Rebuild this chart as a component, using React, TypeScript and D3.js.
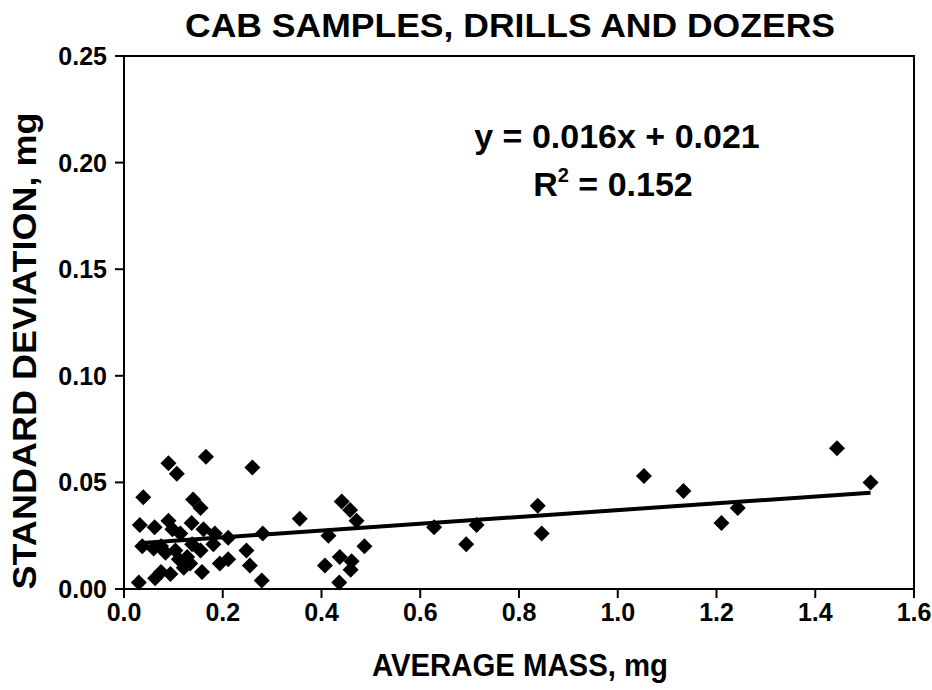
import React from "react";
import * as d3 from "d3";

/* average mass (mg) and standard deviation (mg) per sample */
const massX = [
  0.03, 0.032, 0.039, 0.037, 0.06, 0.062, 0.063, 0.075, 0.075, 0.084, 0.09, 0.09,
  0.094, 0.098, 0.104, 0.107, 0.111, 0.114, 0.121, 0.128, 0.134, 0.137, 0.138,
  0.14, 0.155, 0.155, 0.158, 0.161, 0.166, 0.181, 0.184, 0.194, 0.211, 0.211,
  0.248, 0.255, 0.26, 0.279, 0.281, 0.356, 0.407, 0.414, 0.436, 0.437, 0.441,
  0.458, 0.459, 0.461, 0.471, 0.487, 0.628, 0.693, 0.714, 0.838, 0.846, 1.053,
  1.133, 1.21, 1.243, 1.444, 1.512,
];
const sdY = [
  0.003, 0.03, 0.043, 0.02, 0.019, 0.029, 0.005, 0.008, 0.02, 0.017, 0.032, 0.059,
  0.007, 0.028, 0.018, 0.054, 0.014, 0.026, 0.01, 0.015, 0.012, 0.031, 0.021,
  0.042, 0.038, 0.018, 0.008, 0.028, 0.062, 0.021, 0.026, 0.012, 0.024, 0.014,
  0.018, 0.011, 0.057, 0.004, 0.026, 0.033, 0.011, 0.025, 0.003, 0.015, 0.041,
  0.037, 0.009, 0.013, 0.032, 0.02, 0.029, 0.021, 0.03, 0.039, 0.026, 0.053,
  0.046, 0.031, 0.038, 0.066, 0.05,
];

/* linear trend line */
const slope = 0.016;
const intercept = 0.021;
const rSquared = 0.152;

const xTicks = [0, 0.2, 0.4, 0.6, 0.8, 1.0, 1.2, 1.4, 1.6];
const yTicks = [0, 0.05, 0.1, 0.15, 0.2, 0.25];

const FONT = "'Liberation Sans', Arial, sans-serif";

export default function App() {
  const W = 932;
  const H = 690;

  const x = d3.scaleLinear().domain([0, 1.6]).range([124, 914]);
  const y = d3.scaleLinear().domain([0, 0.25]).range([589, 56]);

  const pts = massX.map((m, i) => ({ m, s: sdY[i] }));
  const diamond = d3.symbol(d3.symbolSquare, 128)() as string;

  const [x0, x1] = d3.extent(massX) as [number, number];
  const trend = d3
    .line<number>()
    .x((d) => x(d))
    .y((d) => y(slope * d + intercept))([x0, x1]);

  const [left, right] = x.range();
  const [bottom, top] = y.range();

  return (
    <svg
      width={W}
      height={H}
      style={{ position: "absolute", left: 0, top: 0, background: "#fff" }}
      fontFamily={FONT}
      fontWeight="bold"
    >
      {/* title (condensed look) */}
      <text
        x={510}
        y={37}
        textAnchor="middle"
        fontSize={33}
        textLength={650}
        lengthAdjust="spacingAndGlyphs"
      >
        CAB SAMPLES, DRILLS AND DOZERS
      </text>

      {/* plot box */}
      <rect
        x={left}
        y={top}
        width={right - left}
        height={bottom - top}
        fill="none"
        stroke="#000"
        strokeWidth={2}
      />

      {/* y axis ticks + labels */}
      {yTicks.map((t) => (
        <g key={t} transform={`translate(${left},${y(t)})`}>
          <line x1={-9} x2={0} stroke="#000" strokeWidth={2} />
          <text x={-17} dy="0.36em" textAnchor="end" fontSize={25}>
            {d3.format(".2f")(t)}
          </text>
        </g>
      ))}

      {/* x axis ticks + labels */}
      {xTicks.map((t) => (
        <g key={t} transform={`translate(${x(t)},${bottom})`}>
          <line y1={0} y2={9} stroke="#000" strokeWidth={2} />
          <text y={32} textAnchor="middle" fontSize={25}>
            {d3.format(".1f")(t)}
          </text>
        </g>
      ))}

      {/* axis titles */}
      <text
        x={520}
        y={676}
        textAnchor="middle"
        fontSize={31}
        textLength={296}
        lengthAdjust="spacingAndGlyphs"
      >
        AVERAGE MASS, mg
      </text>
      <text
        transform={`translate(36,351) rotate(-90)`}
        textAnchor="middle"
        fontSize={33}
        textLength={477}
        lengthAdjust="spacingAndGlyphs"
      >
        STANDARD DEVIATION, mg
      </text>

      {/* points */}
      {pts.map((p, i) => (
        <path
          key={i}
          d={diamond}
          transform={`translate(${x(p.m)},${y(p.s)}) rotate(45)`}
          fill="#000"
        />
      ))}

      {/* trend line */}
      <path d={trend ?? ""} fill="none" stroke="#000" strokeWidth={4} />

      {/* equation */}
      <g fontSize={34} textAnchor="middle">
        <text x={617} y={148}>
          {`y = ${slope}x + ${intercept}`}
        </text>
        <text x={613} y={196}>
          R<tspan fontSize={20} dy={-14}>2</tspan>
          <tspan dy={14}>{` = ${rSquared}`}</tspan>
        </text>
      </g>
    </svg>
  );
}
